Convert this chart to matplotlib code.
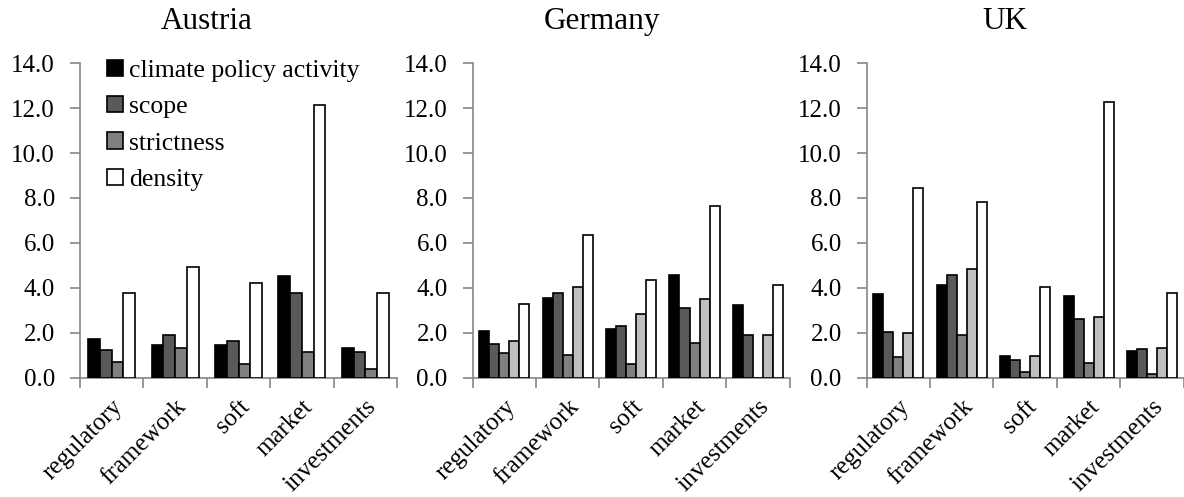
import numpy as np
import matplotlib
matplotlib.use('Agg')
import matplotlib.pyplot as plt

plt.rcParams['font.family'] = ['Liberation Serif', 'DejaVu Serif']

categories = ['regulatory', 'framework', 'soft', 'market', 'investments']
series_names = ['climate policy activity', 'scope', 'strictness', 'series 4', 'density']
series_colors = ['#000000', '#595959', '#808080', '#bfbfbf', '#ffffff']

# Austria has no 4th series
austria = {
    'climate policy activity': [1.72, 1.45, 1.45, 4.51, 1.33],
    'scope': [1.22, 1.90, 1.63, 3.78, 1.13],
    'strictness': [0.71, 1.31, 0.59, 1.13, 0.37],
    'density': [3.78, 4.91, 4.22, 12.12, 3.78],
}
germany = {
    'climate policy activity': [2.09, 3.54, 2.15, 4.55, 3.24],
    'scope': [1.48, 3.78, 2.30, 3.10, 1.88],
    'strictness': [1.08, 1.01, 0.59, 1.53, 0.0],
    'series 4': [1.63, 4.02, 2.83, 3.51, 1.88],
    'density': [3.30, 6.36, 4.37, 7.66, 4.13],
}
uk = {
    'climate policy activity': [3.73, 4.12, 0.96, 3.62, 1.19],
    'scope': [2.03, 4.55, 0.79, 2.62, 1.29],
    'strictness': [0.93, 1.91, 0.24, 0.67, 0.15],
    'series 4': [1.99, 4.82, 0.96, 2.68, 1.32],
    'density': [8.43, 7.82, 4.05, 12.27, 3.78],
}

countries = ['Austria', 'Germany', 'UK']
data = [austria, germany, uk]
lefts = [0.0676, 0.3992, 0.7320]
title_x = [207 / 1184, 602 / 1184, 1005 / 1184]
spine_col = '#868686'

fig = plt.figure(figsize=(11.84, 4.97), dpi=100)

for k, (name, d) in enumerate(zip(countries, data)):
    ax = fig.add_axes([lefts[k], 0.240, 0.2677, 0.633])
    x = np.arange(len(categories))
    names = [s for s in series_names if s in d]
    n = len(names)
    group = 0.74 if n == 4 else 0.79
    w = group / n
    for i, s in enumerate(names):
        c = series_colors[series_names.index(s)]
        ax.bar(x - group / 2 + w * (i + 0.5), d[s], width=w, color=c,
               edgecolor='black', linewidth=1.2, label=s, zorder=3)
    ax.set_xlim(-0.5, len(categories) - 0.5)
    ax.set_ylim(0, 14)
    ax.set_yticks(np.arange(0, 15, 2))
    ax.set_yticklabels([f'{v:.1f}' for v in np.arange(0, 15, 2)], fontsize=18)
    ax.set_xticks(x)
    ax.set_xticklabels(categories, fontsize=18, rotation=45, ha='right',
                       rotation_mode='anchor')
    ax.tick_params(axis='x', length=0, pad=13)
    ax.set_xticks(np.arange(-0.5, len(categories)), minor=True)
    ax.tick_params(axis='x', which='minor', length=7, color=spine_col, width=1.2)
    ax.tick_params(axis='y', length=7, color=spine_col, width=1.2, pad=11)
    for sp in ['top', 'right']:
        ax.spines[sp].set_visible(False)
    for sp in ['left', 'bottom']:
        ax.spines[sp].set_color(spine_col)
        ax.spines[sp].set_linewidth(1.2)
    fig.text(title_x[k], 0.956, name, fontsize=22.5, ha='center', va='center')
    if k == 0:
        ax.legend(loc='upper left', bbox_to_anchor=(0.045, 1.052), frameon=False,
                  fontsize=18.5, handlelength=0.6, handleheight=0.6,
                  handletextpad=0.25, labelspacing=0.55, borderpad=0)

plt.savefig('out.png', dpi=100)
